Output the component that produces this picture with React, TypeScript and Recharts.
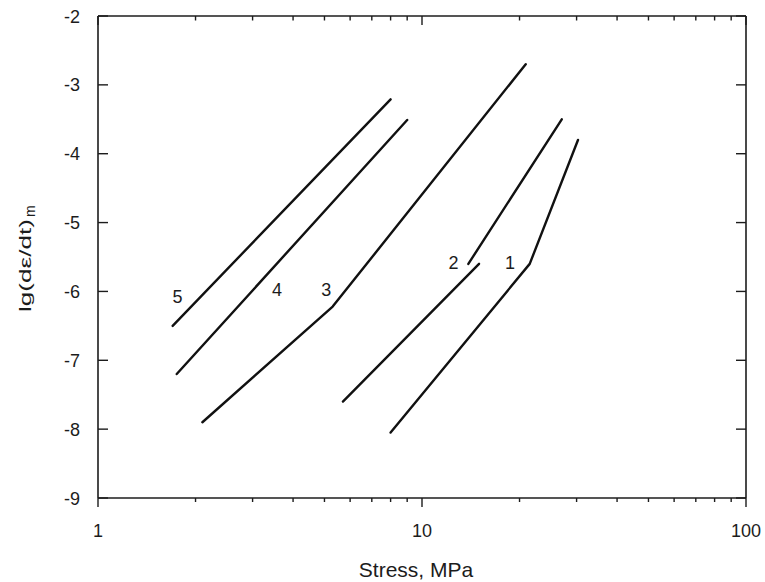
import React from 'react';
import { LineChart, Line, XAxis, YAxis, ReferenceDot } from 'recharts';

const FONT = '"Liberation Sans", Arial, Helvetica, sans-serif';
const INK = '#1c1c1c';

// log stress axis: decades labelled, units in between as minor ticks
const stressTicks = [1, 2, 3, 4, 5, 6, 7, 8, 9, 10, 20, 30, 40, 50, 60, 70, 80, 90, 100];
const stressLabels = [1, 10, 100];
const rateTicks = [-9, -8, -7, -6, -5, -4, -3, -2];

// creep rate curves (stress in MPa, lg of the minimum strain rate)
const curve1 = [
  { x: 8.0, y: -8.05 },
  { x: 21.5, y: -5.6 },
  { x: 30.3, y: -3.8 },
];
const curve2Low = [
  { x: 5.7, y: -7.6 },
  { x: 15.0, y: -5.6 },
];
const curve2High = [
  { x: 13.9, y: -5.6 },
  { x: 27.0, y: -3.5 },
];
const curve3 = [
  { x: 2.1, y: -7.9 },
  { x: 5.3, y: -6.22 },
  { x: 20.9, y: -2.7 },
];
const curve4 = [
  { x: 1.75, y: -7.2 },
  { x: 9.0, y: -3.51 },
];
const curve5 = [
  { x: 1.7, y: -6.5 },
  { x: 8.0, y: -3.21 },
];

const curves = [curve1, curve2Low, curve2High, curve3, curve4, curve5];

const curveLabels = [
  { text: '1', x: 18.7, y: -5.58 },
  { text: '2', x: 12.5, y: -5.58 },
  { text: '3', x: 5.06, y: -5.98 },
  { text: '4', x: 3.57, y: -5.98 },
  { text: '5', x: 1.76, y: -6.08 },
];

const BottomTick = ({ x, y, payload }: any) => {
  const major = stressLabels.includes(payload.value);
  return (
    <g>
      <line x1={x} y1={y} x2={x} y2={y + (major ? 9 : 4)} stroke={INK} strokeWidth={1.4} />
      {major && (
        <text x={x} y={y + 39} textAnchor="middle" fontSize={18} fontFamily={FONT} fill={INK}>
          {payload.value}
        </text>
      )}
    </g>
  );
};

const TopTick = ({ x, y, payload }: any) => {
  const major = stressLabels.includes(payload.value);
  return <line x1={x} y1={y} x2={x} y2={y + (major ? 9 : 4.5)} stroke={INK} strokeWidth={1.4} />;
};

const LeftTick = ({ x, y, payload }: any) => (
  <g>
    <line x1={x} y1={y} x2={x + 10} y2={y} stroke={INK} strokeWidth={1.4} />
    <text x={x - 18} y={y + 6.5} textAnchor="end" fontSize={18} fontFamily={FONT} fill={INK}>
      {payload.value}
    </text>
  </g>
);

const RightTick = ({ x, y }: any) => (
  <line x1={x} y1={y} x2={x - 10} y2={y} stroke={INK} strokeWidth={1.4} />
);

const StressTitle = ({ viewBox }: any) => (
  <text
    x={viewBox.x + viewBox.width / 2 - 6}
    y={viewBox.y + 79}
    textAnchor="middle"
    fontSize={21}
    fontFamily={FONT}
    fill={INK}
  >
    Stress, MPa
  </text>
);

const RateTitle = ({ viewBox }: any) => {
  const bx = viewBox.x + 31;
  const by = viewBox.y + viewBox.height / 2 + 55;
  return (
    <g transform={`translate(${bx} ${by}) rotate(-90)`} fontFamily={FONT} fill={INK}>
      <text x={0} y={0} fontSize={17} textLength={93} lengthAdjust="spacingAndGlyphs">
        lg(dε/dt)
      </text>
      <text x={95} y={4} fontSize={14}>
        m
      </text>
    </g>
  );
};

export default function App() {
  return (
    <div style={{ position: 'absolute', left: 0, top: 0 }}>
      <LineChart
        width={765}
        height={582}
        margin={{ top: 0, right: 0, bottom: 0, left: 0 }}
        style={{ fontFamily: FONT, background: '#fff' }}
      >
        <XAxis
          dataKey="x"
          type="number"
          scale="log"
          domain={[1, 100]}
          ticks={stressTicks}
          interval={0}
          allowDataOverflow
          height={84}
          tickSize={0}
          tickMargin={0}
          tickLine={false}
          axisLine={{ stroke: INK, strokeWidth: 1.6 }}
          tick={<BottomTick />}
          label={<StressTitle />}
        />
        <XAxis
          xAxisId="top"
          orientation="top"
          dataKey="x"
          type="number"
          scale="log"
          domain={[1, 100]}
          ticks={stressTicks}
          interval={0}
          allowDataOverflow
          height={16}
          tickSize={0}
          tickMargin={0}
          tickLine={false}
          axisLine={{ stroke: INK, strokeWidth: 1.6 }}
          tick={<TopTick />}
        />
        <YAxis
          type="number"
          domain={[-9, -2]}
          ticks={rateTicks}
          interval={0}
          allowDataOverflow
          width={98}
          tickSize={0}
          tickMargin={0}
          tickLine={false}
          axisLine={{ stroke: INK, strokeWidth: 1.6 }}
          tick={<LeftTick />}
          label={<RateTitle />}
        />
        <YAxis
          yAxisId="right"
          orientation="right"
          type="number"
          domain={[-9, -2]}
          ticks={rateTicks}
          interval={0}
          allowDataOverflow
          width={19}
          tickSize={0}
          tickMargin={0}
          tickLine={false}
          axisLine={{ stroke: INK, strokeWidth: 1.6 }}
          tick={<RightTick />}
        />

        {curves.map((points, i) => (
          <Line
            key={i}
            data={points}
            dataKey="y"
            type="linear"
            stroke="#111"
            strokeWidth={2.4}
            strokeLinecap="round"
            strokeLinejoin="round"
            dot={false}
            activeDot={false}
            isAnimationActive={false}
          />
        ))}

        {curveLabels.map((l) => (
          <ReferenceDot
            key={l.text}
            x={l.x}
            y={l.y}
            r={1}
            fill="none"
            stroke="none"
            label={{ value: l.text, position: 'center', fontSize: 18, fontFamily: FONT, fill: INK }}
          />
        ))}
      </LineChart>
    </div>
  );
}
